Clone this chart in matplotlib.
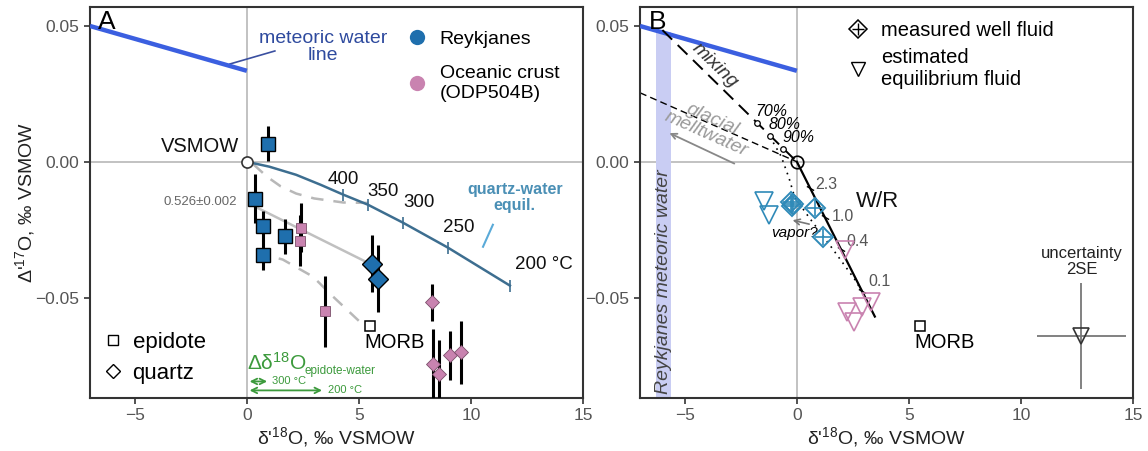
import matplotlib.pyplot as plt
from matplotlib.lines import Line2D

plt.rcParams['font.family'] = ['Liberation Sans', 'DejaVu Sans']
plt.rcParams['mathtext.fontset'] = 'custom'
plt.rcParams['mathtext.rm'] = 'Liberation Sans'
plt.rcParams['mathtext.it'] = 'Liberation Sans:italic'
plt.rcParams['mathtext.default'] = 'regular'

# ---------- colours ----------
BLUE = '#1f6fad'
PINK = '#c983b0'
MWL_BLUE = '#3b5fe0'
QW_BLUE = '#3d6e90'
QW_TEXT = '#4a8fb5'
GREEN = '#3c9a3c'
FLUID_BLUE = '#2f8ab8'
GRID = '#b8b8b8'

# ---------- common ----------
xlim = (-7, 15)
ylim = (-0.087, 0.057)
xticks = [-5, 0, 5, 10, 15]
xticklabels = ['\u22125', '0', '5', '10', '15']
yticks = [-0.05, 0.0, 0.05]
yticklabels = ['\u22120.05', '0.00', '0.05']

mwl_x = [-7, 0]
mwl_y = [0.050, 0.0335]
morb_x, morb_y = 5.5, -0.0603

# ---------- panel A data ----------
# Reykjanes epidote / quartz
rk_ep_x = [0.95, 0.36, 0.73, 0.73, 1.70]
rk_ep_y = [0.0066, -0.0136, -0.0235, -0.0342, -0.0275]
rk_ep_err = [0.0065, 0.009, 0.0055, 0.0055, 0.0065]
rk_qz_x = [5.6, 5.85]
rk_qz_y = [-0.0375, -0.043]
rk_qz_err = [0.0105, 0.0125]
# ODP504B epidote / quartz
oc_ep_x = [2.40, 2.37, 3.48]
oc_ep_y = [-0.0243, -0.0290, -0.0551]
oc_ep_err = [0.009, 0.0095, 0.013]
oc_qz_x = [8.26, 8.30, 8.57, 9.06, 9.55]
oc_qz_y = [-0.0518, -0.0746, -0.0780, -0.0713, -0.0702]
oc_qz_err = [0.0068, 0.013, 0.0125, 0.009, 0.0115]

# quartz-water equilibrium curve
qw_x = [0, 1.0, 2.2, 3.3, 4.3, 5.4, 6.96, 8.97, 11.74]
qw_y = [0, -0.0018, -0.0048, -0.0085, -0.0121, -0.0158, -0.0224, -0.0316, -0.0456]
qw_temp_x = [4.3, 5.4, 6.96, 8.97, 11.74]
qw_temp_y = [-0.0121, -0.0158, -0.0224, -0.0316, -0.0456]
qw_temp_labels = ['400', '350', '300', '250', '200 \u00b0C']

# 0.526 line and fractionation paths
slope_x = [0.36, 5.6]
slope_y = [-0.0165, -0.038]
upper_dash_x = [0.3, 0.9, 1.5, 2.2, 3.0, 4.3, 5.8]
upper_dash_y = [-0.001, -0.0055, -0.009, -0.0117, -0.0135, -0.0150, -0.0152]
lower_dash_x = [0.45, 1.6, 2.95, 3.84, 5.27]
lower_dash_y = [-0.0335, -0.036, -0.0423, -0.0496, -0.0607]

# epidote-water fractionation at 300 and 200 degC
dd18_300 = 1.03
dd18_200 = 3.48

# ---------- panel B data ----------
mix_x = [-6.0, 0]
mix_y = [0.0485, 0]
mix_pct_x = [-1.8, -1.2, -0.6]
mix_pct_y = [0.0144, 0.0096, 0.0048]
mix_pct_labels = ['70%', '80%', '90%']

glacial_x = [-7, 0]
glacial_y = [0.0254, 0]

dotted_x = [-1.2, -0.7, -0.35, -0.1, 0.5, 1.5, 2.6, 3.0]
dotted_y = [0.0092, 0.002, -0.006, -0.013, -0.020, -0.031, -0.0435, -0.049]

wr_x = [0, 3.48]
wr_y = [0, -0.057]
wr_tick_x = [0.6, 1.25, 1.95, 2.9]
wr_tick_y = [-0.0098, -0.0205, -0.032, -0.0475]
wr_labels = ['2.3', '1.0', '0.4', '0.1']

well_x = [-0.25, -0.15, -0.2, 0.8, 1.16]
well_y = [-0.0148, -0.0155, -0.0162, -0.0169, -0.0276]
eq_blue_x = [-1.45, -1.25]
eq_blue_y = [-0.0145, -0.0195]
eq_pink_x = [2.15, 2.25, 2.55, 2.9, 3.3]
eq_pink_y = [-0.0325, -0.0555, -0.059, -0.0535, -0.0515]

unc_x, unc_y = 12.7, -0.0643
unc_xerr, unc_yerr = 2.0, 0.0195

band_x = (-6.3, -5.6)


def style_axes(ax):
    ax.set_xlim(*xlim)
    ax.set_ylim(*ylim)
    ax.set_xticks(xticks)
    ax.set_xticklabels(xticklabels)
    ax.set_yticks(yticks)
    ax.set_yticklabels(yticklabels)
    ax.tick_params(labelsize=12.5, labelcolor='#555555', color='#333333',
                   length=4, width=1.2)
    for s in ax.spines.values():
        s.set_color('#333333')
        s.set_linewidth(1.5)
    ax.axhline(0, color=GRID, lw=1.2, zorder=0)
    ax.axvline(0, color=GRID, lw=1.2, zorder=0)
    ax.set_xlabel("\u03b4'$^{18}$O, \u2030 VSMOW", fontsize=14, color='#222222', labelpad=1)


fig = plt.figure(figsize=(11.48, 4.51), dpi=100)
axA = fig.add_axes([0.0784, 0.1175, 0.4294, 0.867])
axB = fig.add_axes([0.5575, 0.1175, 0.4294, 0.867])

# ================= Panel A =================
ax = axA
style_axes(ax)
ax.set_ylabel("\u0394'$^{17}$O, \u2030 VSMOW", fontsize=14, color='#222222', labelpad=-1)

ax.plot(mwl_x, mwl_y, color=MWL_BLUE, lw=3.2, solid_capstyle='butt', zorder=3)
ax.plot([-0.76, 1.25], [0.036, 0.0408], color='#3a4fa0', lw=1.2)
ax.text(3.39, 0.0423, 'meteoric water\nline', color='#2e4a9e', fontsize=14,
        ha='center', va='center', linespacing=1.0)

# fractionation paths
ax.plot(upper_dash_x, upper_dash_y, color=GRID, lw=1.8, dashes=(5, 4), zorder=1)
ax.plot(lower_dash_x, lower_dash_y, color=GRID, lw=1.8, dashes=(5, 4), zorder=1)
ax.plot(slope_x, slope_y, color='#c0c0c0', lw=1.8, zorder=1)
ax.text(-0.45, -0.0147, '0.526\u00b10.002', color='#666666', fontsize=9.5,
        ha='right', va='center')

# quartz-water equilibrium
ax.plot(qw_x, qw_y, color=QW_BLUE, lw=1.8, zorder=2)
ax.plot(qw_temp_x, qw_temp_y, ls='none', marker='|', ms=9, mew=1.2, color=QW_BLUE, zorder=2)
lab_dx = [0.0, 0.67, 0.72, 0.49, 0.22]
lab_dy = [0.0055, 0.0048, 0.0073, 0.0073, 0.0077]
for x, y, t, dx, dy in zip(qw_temp_x, qw_temp_y, qw_temp_labels, lab_dx, lab_dy):
    ax.text(x + dx, y + dy, t, fontsize=13.5, ha='left' if 'C' in t else 'center',
            va='center', color='#111111')
ax.text(11.96, -0.0132, 'quartz-water\nequil.', color=QW_TEXT, fontsize=11.5,
        fontweight='bold', ha='center', va='center', linespacing=1.1)
ax.plot([10.54, 10.98], [-0.0313, -0.0232], color='#5aaad8', lw=1.5)

# VSMOW
ax.plot(0, 0, 'o', ms=8, mfc='white', mec='#333333', mew=1.2, zorder=6)
ax.text(-0.36, 0.0055, 'VSMOW', fontsize=14.5, ha='right', va='center', color='#111111')

# samples
ax.errorbar(oc_ep_x, oc_ep_y, yerr=oc_ep_err, fmt='s', ms=6.5, mfc=PINK, mec='#7a4f6a',
            mew=0.6, ecolor='black', elinewidth=2.2, capsize=0, zorder=4)
ax.errorbar(oc_qz_x, oc_qz_y, yerr=oc_qz_err, fmt='D', ms=7, mfc=PINK, mec='#7a4f6a',
            mew=0.6, ecolor='black', elinewidth=2.2, capsize=0, zorder=4)
ax.errorbar(rk_ep_x, rk_ep_y, yerr=rk_ep_err, fmt='s', ms=9.5, mfc=BLUE, mec='black',
            mew=1.0, ecolor='black', elinewidth=2.2, capsize=0, zorder=5)
ax.errorbar(rk_qz_x, rk_qz_y, yerr=rk_qz_err, fmt='D', ms=10, mfc=BLUE, mec='black',
            mew=1.0, ecolor='black', elinewidth=2.2, capsize=0, zorder=5)

ax.plot(morb_x, morb_y, 's', ms=7, mfc='white', mec='black', mew=1.1, zorder=5)
ax.text(morb_x + 1.1, morb_y - 0.0062, 'MORB', fontsize=14.5, ha='center', va='center')

# epidote-water fractionation arrows
ax.text(0.0, -0.0739, '\u0394\u03b4$^{18}$O', color=GREEN, fontsize=15, ha='left', va='center')
ax.text(2.59, -0.0772, 'epidote-water', color=GREEN, fontsize=8.5, ha='left', va='center')
ax.annotate('', xy=(dd18_300, -0.0809), xytext=(0, -0.0809),
            arrowprops=dict(arrowstyle='<->', color=GREEN, lw=1.3))
ax.text(dd18_300 + 0.09, -0.0809, '300 \u00b0C', color=GREEN, fontsize=8, ha='left', va='center')
ax.annotate('', xy=(dd18_200, -0.0842), xytext=(0, -0.0842),
            arrowprops=dict(arrowstyle='<->', color=GREEN, lw=1.3))
ax.text(dd18_200 + 0.14, -0.0842, '200 \u00b0C', color=GREEN, fontsize=8, ha='left', va='center')

ax.text(-6.65, 0.0515, 'A', fontsize=19, ha='left', va='center')

leg1 = ax.legend(handles=[
    Line2D([], [], ls='none', marker='o', ms=11, mfc=BLUE, mec='none', label='Reykjanes'),
    Line2D([], [], ls='none', marker='o', ms=11, mfc=PINK, mec='none',
           label='Oceanic crust\n(ODP504B)')],
    loc='upper left', bbox_to_anchor=(0.605, 0.985), frameon=False, fontsize=14,
    handletextpad=0.55, labelspacing=0.9, handlelength=1.2)
for t in leg1.get_texts():
    t.set_linespacing(1.2)
ax.add_artist(leg1)
ax.legend(handles=[
    Line2D([], [], ls='none', marker='s', ms=7, mfc='white', mec='black', label='epidote'),
    Line2D([], [], ls='none', marker='D', ms=7, mfc='white', mec='black', label='quartz')],
    loc='lower left', bbox_to_anchor=(-0.015, -0.015), frameon=False, fontsize=16,
    handletextpad=0.45, labelspacing=0.45, handlelength=0.9)

# ================= Panel B =================
ax = axB
style_axes(ax)

ax.fill_betweenx([ylim[0], 0.0478], band_x[0], band_x[1], color='#c9cdf3', lw=0, zorder=0)
ax.text(sum(band_x) / 2, -0.0441, 'Reykjanes meteoric water', rotation=90, style='italic',
        fontsize=14, color='#444444', ha='center', va='center')

ax.plot(mwl_x, mwl_y, color=MWL_BLUE, lw=3.2, solid_capstyle='butt', zorder=3)

# mixing with glacial meltwater
ax.plot(mix_x, mix_y, color='black', lw=1.4, dashes=(7, 4), zorder=3)
ax.plot(mix_pct_x, mix_pct_y, 'o', ms=4, mfc='white', mec='black', mew=0.9, zorder=4)
for x, y, t in zip(mix_pct_x, mix_pct_y, mix_pct_labels):
    ax.text(x - 0.05, y + 0.0015, t, style='italic', fontsize=11.5, ha='left', va='bottom')
ax.text(-3.65, 0.0355, 'mixing', rotation=-44, style='italic', fontsize=14,
        color='#333333', ha='center', va='center')

ax.plot(glacial_x, glacial_y, color='black', lw=1.0, dashes=(5, 3), zorder=2)
ax.text(-3.9, 0.0128, 'glacial\nmelltwater', rotation=-24, style='italic', fontsize=14,
        color='#9a9a9a', ha='center', va='center', linespacing=0.95)
ax.annotate('', xy=(-5.8, 0.011), xytext=(-2.68, -0.0011),
            arrowprops=dict(arrowstyle='->', color='#888888', lw=1.3))

ax.plot(dotted_x, dotted_y, color='black', lw=1.2, ls=(0, (1, 3)), zorder=2)

# water/rock line
ax.plot(wr_x, wr_y, color='black', lw=1.6, zorder=3)
ax.plot(wr_tick_x, wr_tick_y, ls='none', marker=(2, 0, 60), ms=6, mew=1.0, color='black', zorder=3)
wr_lab_dx = [0.2, 0.31, 0.28, 0.27]
wr_lab_dy = [0.0013, 0.0003, 0.0026, 0.0034]
for x, y, t, dx, dy in zip(wr_tick_x, wr_tick_y, wr_labels, wr_lab_dx, wr_lab_dy):
    ax.text(x + dx, y + dy, t, fontsize=11.5, color='#555555', ha='left', va='center')
ax.text(3.62, -0.0147, 'W/R', fontsize=16, ha='center', va='center', color='#111111')

# fluids
ax.plot(eq_blue_x, eq_blue_y, 'v', ms=13, mfc='none', mec=FLUID_BLUE, mew=1.2, zorder=4)
ax.plot(eq_pink_x, eq_pink_y, 'v', ms=13, mfc='none', mec=PINK, mew=1.2, zorder=4)
ax.plot(well_x, well_y, 'D', ms=10.5, mfc='none', mec=FLUID_BLUE, mew=1.4, zorder=5)
ax.plot(well_x, well_y, '+', ms=11, mec=FLUID_BLUE, mew=1.2, zorder=5)
ax.annotate('', xy=(-0.31, -0.0213), xytext=(0.67, -0.0232),
            arrowprops=dict(arrowstyle='->', color='#777777', lw=1.2))
ax.text(-0.09, -0.0261, 'vapor?', style='italic', fontsize=11, ha='center', va='center')

ax.plot(0, 0, 'o', ms=9, mfc='none', mec='black', mew=1.2, zorder=6)

ax.plot(morb_x, morb_y, 's', ms=7, mfc='white', mec='black', mew=1.1, zorder=5)
ax.text(morb_x + 1.1, morb_y - 0.0062, 'MORB', fontsize=14.5, ha='center', va='center')

ax.errorbar(unc_x, unc_y, xerr=unc_xerr, yerr=unc_yerr, fmt='v', ms=12, mfc='none',
            mec='#333333', mew=1.2, ecolor='#777777', elinewidth=1.3, capsize=0)
ax.text(unc_x, -0.0368, 'uncertainty\n2SE', fontsize=12, ha='center', va='center',
        color='#222222', linespacing=1.1)

ax.text(-6.6, 0.0515, 'B', fontsize=19, ha='left', va='center')

well_handle = (Line2D([], [], ls='none', marker='D', ms=9, mfc='none', mec='black', mew=1.1),
               Line2D([], [], ls='none', marker='+', ms=9, mec='black', mew=1.0))
tri_handle = Line2D([], [], ls='none', marker='v', ms=10, mfc='none', mec='black', mew=1.0)
legB = ax.legend([well_handle, tri_handle], ['measured well fluid', 'estimated\nequilibrium fluid'],
                 loc='upper left', bbox_to_anchor=(0.38, 1.01), frameon=False, fontsize=14.5,
                 handletextpad=0.55, labelspacing=0.4, handlelength=1.2)
for t in legB.get_texts():
    t.set_linespacing(1.15)

fig.savefig('out.png', dpi=100)
